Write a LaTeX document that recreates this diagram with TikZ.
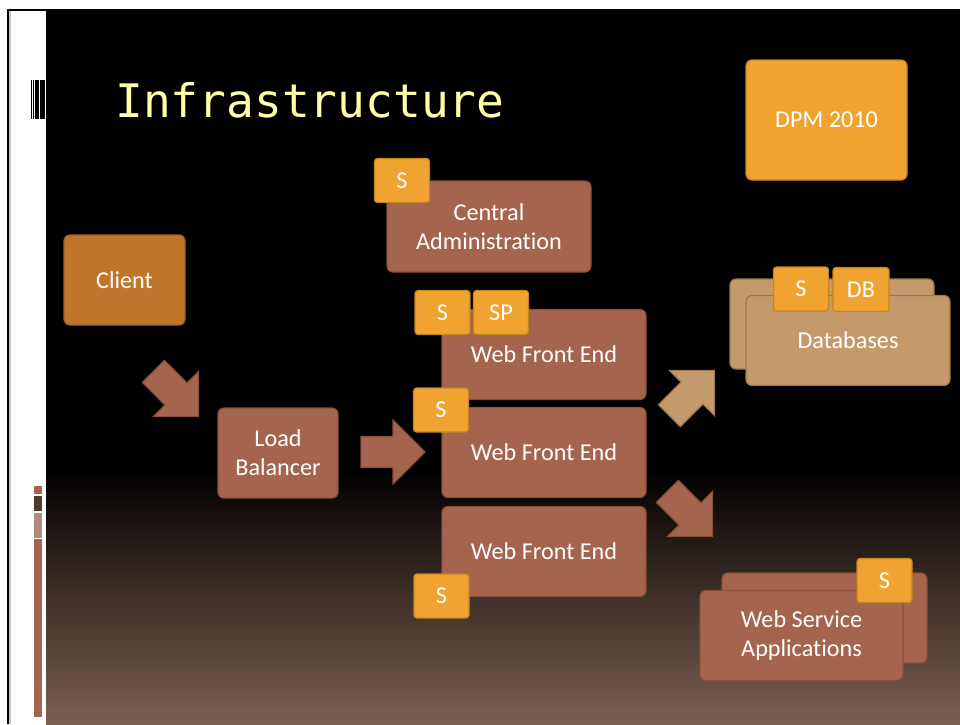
\documentclass[tikz,border=0pt]{standalone}
\usepackage{fontspec}
\setmainfont{Carlito}[Ligatures=NoCommon]
\newfontfamily\titlefont{DejaVu Sans Mono}
\definecolor{brownfill}{HTML}{A5644E}
\definecolor{brownline}{HTML}{8A4F3B}
\definecolor{orangefill}{HTML}{F0A330}
\definecolor{orangeline}{HTML}{C4861F}
\definecolor{tanfill}{HTML}{C49A6C}
\definecolor{tanline}{HTML}{9E7751}
\definecolor{clientfill}{HTML}{C0762A}
\definecolor{clientline}{HTML}{A06020}
\definecolor{titlecol}{HTML}{FFFFA6}
\definecolor{slidebot}{HTML}{7D5F50}
\definecolor{decodark}{HTML}{4D3B32}
\definecolor{decopale}{HTML}{B38A7E}
\begin{document}
\begin{tikzpicture}[x=1pt,y=-1pt,
  box/.style={draw=brownline, fill=brownfill, line width=1.2pt, rounded corners=6pt,
    text=white, align=center, inner sep=0pt,
    font=\fontsize{24.2}{29}\selectfont},
  tanbox/.style={box, draw=tanline, fill=tanfill},
  clientbox/.style={box, draw=clientline, fill=clientfill},
  bigorange/.style={box, draw=orangeline, fill=orangefill},
  tag/.style={draw=orangeline, fill=orangefill, line width=1.2pt, rounded corners=3pt,
    text=white, inner sep=0pt, font=\fontsize{24.2}{29}\selectfont,
    minimum width=55pt, minimum height=44pt},
  blockarrow/.style={line width=1.2pt}
]
\useasboundingbox (0,0) rectangle (960,724);
% page and slide background
\fill[white] (0,0) rectangle (960,724);
\fill[black] (7,9) rectangle (960,724);
\fill[gray!45] (9,11) rectangle (11,724);
\fill[white] (11,11) rectangle (46,724);
\fill[black] (46,11) rectangle (960,470);
\shade[top color=black, bottom color=slidebot] (46,470) rectangle (960,724);
% left decorations
\fill[black] (31,80) rectangle (32.3,119);
\fill[black] (33,80) rectangle (34.3,119);
\fill[black] (35,80) rectangle (39,119);
\fill[black] (40,80) rectangle (45,119);
\fill[brownfill] (34,486) rectangle (42,494);
\fill[decodark] (34,496) rectangle (42,511);
\fill[decopale] (34,513) rectangle (42,538);
\fill[brownfill] (34,539) rectangle (42,717);
% title
\node[anchor=base west, inner sep=0pt, text=titlecol,
  font=\titlefont\fontsize{46.2}{50}\selectfont] (title) at (115,117) {Infrastructure};
% block arrows
\newcommand\blockarrowshape[4]{%
  \begin{scope}[shift={(#1,#2)}, rotate=#3]
    \filldraw[blockarrow, fill=#4fill, draw=#4line]
      (-32,-15.5) -- (0,-15.5) -- (0,-32) -- (32,0) -- (0,32) -- (0,15.5) -- (-32,15.5) -- cycle;
  \end{scope}}
\blockarrowshape{176}{394}{-45}{brown}
\blockarrowshape{393}{452}{0}{brown}
\blockarrowshape{692}{393}{45}{tan}
\blockarrowshape{690}{514}{-45}{brown}
% boxes
\node[bigorange, minimum width=161pt, minimum height=120pt] (dpm) at (826.5,120) {DPM 2010};
\node[box, minimum width=204pt, minimum height=91pt] (central) at (489,226.5) {Central\\Administration};
\node[tag] (centralS) at (402,180.5) {S};
\node[clientbox, minimum width=121pt, minimum height=90pt] (client) at (124.5,280) {Client};
\node[box, minimum width=120pt, minimum height=90pt] (lb) at (278,453) {Load\\Balancer};
\node[box, minimum width=204pt, minimum height=90pt] (wfe1) at (544,354.5) {Web Front End};
\node[box, minimum width=204pt, minimum height=90pt] (wfe2) at (544,452.5) {Web Front End};
\node[box, minimum width=204pt, minimum height=90pt] (wfe3) at (544,551.5) {Web Front End};
\node[tag] (wfe1S) at (442.5,312.5) {S};
\node[tag] (wfe1SP) at (501,312.5) {SP};
\node[tag] (wfe2S) at (441,410) {S};
\node[tag] (wfe3S) at (441.5,596) {S};
\node[tanbox, minimum width=204pt, minimum height=90pt] (dbback) at (832,324) {};
\node[tanbox, minimum width=204pt, minimum height=90pt] (db) at (848,340.5) {Databases};
\node[tag] (dbS) at (801,289) {S};
\node[tag, minimum width=56pt] (dbDB) at (861,289.5) {DB};
\node[box, minimum width=205pt, minimum height=90pt] (wsaback) at (824.5,618) {};
\node[box, minimum width=203pt, minimum height=90pt] (wsa) at (801.5,635.5) {Web Service\\Applications};
\node[tag] (wsaS) at (884.5,580.5) {S};
\end{tikzpicture}
\end{document}
